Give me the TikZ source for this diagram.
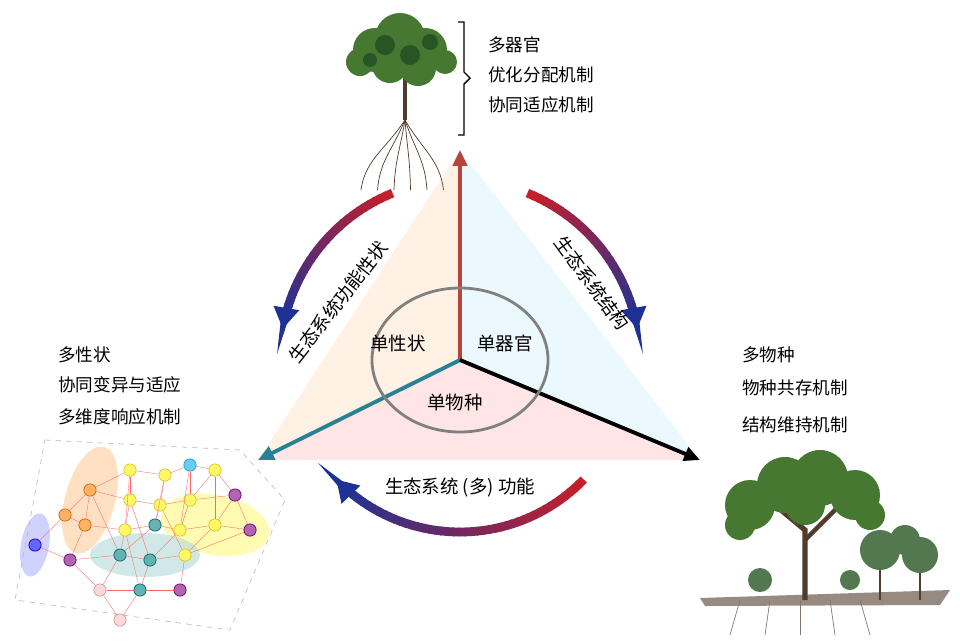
\documentclass[tikz,border=0pt]{standalone}
\usepackage{fontspec}
\setmainfont{Noto Sans CJK SC}
\usetikzlibrary{arrows.meta,calc}
\definecolor{arrred}{RGB}{200,30,40}
\definecolor{arrblue}{RGB}{30,50,150}
\definecolor{axred}{RGB}{180,70,60}
\definecolor{axteal}{RGB}{40,130,150}
\definecolor{leaf}{RGB}{70,120,50}
\definecolor{leafd}{RGB}{40,85,35}
\definecolor{bark}{RGB}{80,60,45}
\begin{document}
\begin{tikzpicture}[x=0.02cm,y=-0.02cm,
  txt/.style={font=\fontsize{10}{12}\selectfont,anchor=west,inner sep=0pt},
  lab/.style={font=\fontsize{10.5}{12}\selectfont,inner sep=1pt},
  net/.style={circle,draw=#1!80!black,fill=#1!60,minimum size=7pt,inner sep=0pt},
  axis/.style={line width=2.2pt,-{Triangle[length=9pt,width=8pt]}}]
\useasboundingbox (0,0) rectangle (960,643);
% triangle
\coordinate (O) at (460,360);
\coordinate (T) at (460,150);
\coordinate (L) at (258,460);
\coordinate (R) at (700,460);
\fill[orange!10] (O) -- (T) -- (L) -- cycle;
\fill[cyan!8] (O) -- (T) -- (R) -- cycle;
\fill[red!10] (O) -- (L) -- (R) -- cycle;
\draw[axis,axred] (O) -- (T);
\draw[axis,axteal] (O) -- (L);
\draw[axis,black] (O) -- (R);
\draw[gray,line width=1.6pt] (O) ellipse (88 and 72);
\node[lab] (sx) at (398,343) {单性状};
\node[lab] (qg) at (505,343) {单器官};
\node[lab] (wz) at (455,402) {单物种};
% curved arrows
\foreach \a in {112,114,...,164}{
  \pgfmathsetmacro\p{100-100*(\a-112)/54}
  \draw[line width=5pt,arrred!\p!arrblue] ($(O)+(\a:180 and -180)$) arc[start angle=-\a,end angle=-\a-2.5,radius=180];}
\draw[line width=4pt,arrblue,-{Triangle[length=12pt,width=14pt]}] ($(O)+(166:180 and -180)$) arc[start angle=-166,end angle=-170,radius=180];
\foreach \a in {68,66,...,16}{
  \pgfmathsetmacro\p{100-100*(68-\a)/54}
  \draw[line width=5pt,arrred!\p!arrblue] ($(O)+(\a:180 and -180)$) arc[start angle=-\a,end angle=-\a+2.5,radius=180];}
\draw[line width=4pt,arrblue,-{Triangle[length=12pt,width=14pt]}] ($(O)+(14:180 and -180)$) arc[start angle=-14,end angle=-10,radius=180];
\foreach \a in {-44,-46,...,-130}{
  \pgfmathsetmacro\p{100-100*(-44-\a)/88}
  \draw[line width=5pt,arrred!\p!arrblue] ($(O)+(\a:172 and -172)$) arc[start angle=-\a,end angle=-\a+2.5,radius=172];}
\draw[line width=4pt,arrblue,-{Triangle[length=12pt,width=14pt]}] ($(O)+(-132:172 and -172)$) arc[start angle=132,end angle=136,radius=172];
\node[lab,rotate=52] (gn) at (338,302) {生态系统功能性状};
\node[lab,rotate=-54] (jg) at (592,283) {生态系统结构};
\node[lab,fill=white,inner sep=2pt] (dg) at (460,488) {生态系统 (多) 功能};
% top tree
\foreach \r in {-40,-25,-10,5,20,35}
  \draw[bark,thin] (405,120) .. controls (405+\r/2,150) and (405+\r,160) .. (405+\r*1.1,190);
\draw[bark,line width=2pt] (405,120) -- (405,78);
\foreach \x/\y/\s in {375/50/22,400/38/25,425/50/22,390/65/18,418/68/18,360/62/14,445/62/12}
  \fill[leaf] (\x,\y) circle (\s);
\foreach \x/\y/\s in {385/45/10,410/55/10,430/42/8,370/60/7}
  \fill[leafd] (\x,\y) circle (\s);
\draw[thick] (458,22) -- (464,22) -- (464,72) -- (470,78) -- (464,84) -- (464,135) -- (458,135);
\node[txt] (t1) at (488,45) {多器官};
\node[txt] (t2) at (488,75) {优化分配机制};
\node[txt] (t3) at (488,105) {协同适应机制};
% left texts
\node[txt] (l1) at (58,355) {多性状};
\node[txt] (l2) at (58,385) {协同变异与适应};
\node[txt] (l3) at (58,417) {多维度响应机制};
% right texts
\node[txt] (r1) at (742,355) {多物种};
\node[txt] (r2) at (742,388) {物种共存机制};
\node[txt] (r3) at (742,425) {结构维持机制};
% network
\draw[gray!50,dashed] (45,440) -- (240,450) -- (285,500) -- (230,630) -- (15,600) -- cycle;
\fill[blue!30,opacity=.6,rotate around={-10:(35,545)}] (35,545) ellipse (14 and 32);
\fill[orange!40,opacity=.6,rotate around={-15:(90,500)}] (90,500) ellipse (25 and 55);
\fill[yellow!50,opacity=.6,rotate around={-10:(215,525)}] (215,525) ellipse (55 and 30);
\fill[teal!30,opacity=.6] (145,555) ellipse (55 and 22);
\foreach \i/\x/\y/\c in {a/130/470/yellow,b/165/475/yellow,c/190/465/cyan,d/215/470/yellow,e/90/490/orange,f/130/500/yellow,g/160/505/yellow,h/190/500/yellow,i/235/495/violet,j/85/525/orange,k/125/530/yellow,l/155/525/teal,m/180/530/yellow,n/215/525/yellow,o/250/530/violet,p/35/545/blue,q/70/560/violet,r/120/555/teal,s/150/560/teal,t/185/555/yellow,u/100/590/pink,v/140/590/teal,w/180/590/violet,x/120/620/pink,y/65/515/orange}
  \node[net=\c] (n\i) at (\x,\y) {};
\foreach \u/\v in {a/b,a/f,b/c,c/d,d/h,e/f,f/g,g/h,h/i,e/j,j/k,k/l,l/m,m/n,n/o,p/q,q/r,r/s,s/t,u/v,v/w,u/x,x/v,j/q,k/r,f/k,g/l,h/m,i/n,a/e,b/g,c/h,d/i,r/u,s/v,t/w,y/e,y/j,p/y,q/u,o/t,m/s,l/r,a/k,c/m,b/l,e/r,f/s,g/t,d/n,i/o,k/v,n/t}
  \draw[red!60,very thin] (n\u) -- (n\v);
% right trees
\fill[bark!60] (700,598) -- (950,590) -- (940,605) -- (705,606) -- cycle;
\foreach \r in {-20,-10,0,10,20}
  \draw[bark!70,thin] (800+\r*3,600) -- (800+\r*3.5,635);
\draw[bark,line width=3pt] (805,600) -- (805,530) -- (775,505);
\draw[bark,line width=2.5pt] (805,540) -- (840,505);
\draw[bark,line width=1.5pt] (880,600) -- (880,555);
\draw[bark,line width=1.5pt] (920,600) -- (920,565);
\foreach \x/\y/\s in {750/505/25,785/485/28,820/478/28,855/495/25,805/505/20,740/525/15,870/515/15}
  \fill[leaf] (\x,\y) circle (\s);
\foreach \x/\y/\s in {880/550/20,920/555/18,905/540/15,760/580/12,850/580/10}
  \fill[leafd!80] (\x,\y) circle (\s);
\end{tikzpicture}
\end{document}
